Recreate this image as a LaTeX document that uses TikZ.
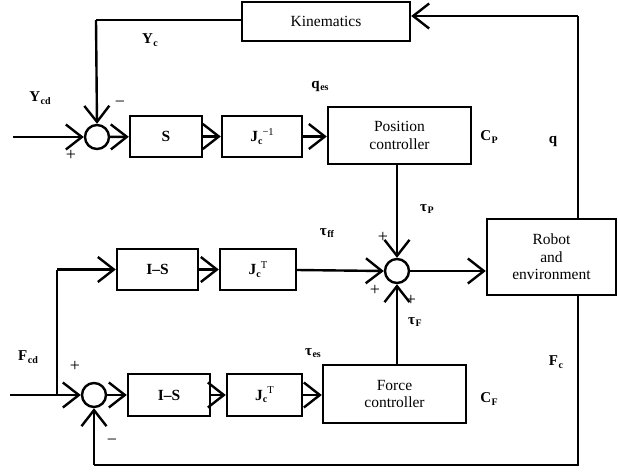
\documentclass[tikz,border=0pt]{standalone}
\usepackage{fontspec}
\setmainfont{Liberation Serif}
\usetikzlibrary{arrows.meta}
\newcommand{\bsub}[2]{\textbf{#1}\kern0.5pt\raisebox{-0.35ex}{\fontsize{10}{10}\selectfont\textbf{#2}}}
\newcommand{\jc}[1]{\textbf{J}\raisebox{-0.35ex}{\fontsize{10}{10}\selectfont\textbf{c}}\raisebox{0.9ex}{\fontsize{10.5}{10}\selectfont #1}}
\begin{document}
\begin{tikzpicture}[x=1pt,y=-1pt,
  blk/.style={draw,line width=2.4pt,inner sep=0pt,font=\fontsize{15.5}{17.5}\selectfont,align=center},
  sumc/.style={draw,circle,line width=2.4pt,minimum size=24pt,inner sep=0pt},
  conn/.style={line width=2.4pt,-{Straight Barb[length=16pt,width=25pt,line width=2.4pt]}},
  wire/.style={line width=2.4pt},
  lab/.style={font=\fontsize{15}{16}\selectfont},
  sgn/.style={font=\fontsize{18}{18}\selectfont}]
\useasboundingbox (0,0) rectangle (618,472);
% blocks
\node[blk,minimum width=168pt,minimum height=39pt] (kin) at (326,21.5) {Kinematics};
\node[sumc] (s1) at (97,137) {};
\node[blk,minimum width=72pt,minimum height=41pt] (S) at (166,136.5) {\textbf{S}};
\node[blk,minimum width=80pt,minimum height=41pt] (Ji) at (262,136.5) {\jc{−1}};
\node[blk,minimum width=143pt,minimum height=57pt] (pos) at (399.5,135.5) {Position\\controller};
\node[blk,minimum width=129pt,minimum height=76pt] (rob) at (551.5,257) {Robot\\and\\environment};
\node[sumc] (s2) at (397,271) {};
\node[blk,minimum width=81pt,minimum height=41pt] (is1) at (157.5,269.5) {\textbf{I–S}};
\node[blk,minimum width=76pt,minimum height=41pt] (jt1) at (258,269.5) {\jc{T}};
\node[sumc] (s3) at (94,395) {};
\node[blk,minimum width=82pt,minimum height=42pt] (is2) at (169,395) {\textbf{I–S}};
\node[blk,minimum width=75pt,minimum height=42pt] (jt2) at (264.5,395) {\jc{T}};
\node[blk,minimum width=143pt,minimum height=58pt] (frc) at (394.5,394) {Force\\controller};
% coordinates
\coordinate (in1) at (13,137);
\coordinate (in3) at (10,395);
\coordinate (br) at (57,395);
\coordinate (brt) at (57,269.5);
\coordinate (kl) at (kin.west |- 0,20);
\coordinate (k1) at (96,20);
\coordinate (kr) at (kin.east |- 0,16);
\coordinate (r1) at (578,16);
\coordinate (b1) at (578,465);
\coordinate (b2) at (94,465);
% connectors top
\draw[conn] (in1) -- (s1);
\draw[wire] (kl) -- (k1);
\draw[conn] (k1) -- (s1.north);
\draw[conn] (s1) -- (S);
\draw[conn] (S) -- (Ji);
\draw[conn] (Ji.east) -- (Ji.east -| pos.west);
\draw[wire] (rob.north -| r1) -- (r1);
\draw[conn] (r1) -- (kr);
\draw[conn] (s2.north |- pos.south) -- (s2.north);
\draw[conn] (s2) -- (s2 -| rob.west);
% middle
\draw[wire] (br) -- (brt);
\draw[conn] (brt) -- (is1.west);
\draw[conn] (is1) -- (jt1);
\draw[conn] (jt1.east |- 0,270) -- (s2.west);
% bottom
\draw[conn] (in3) -- (s3);
\draw[conn] (s3) -- (is2);
\draw[conn] (is2) -- (jt2);
\draw[conn] (jt2) -- (jt2 -| frc.west);
\draw[conn] (s2.south |- frc.north) -- (s2.south);
\draw[wire] (rob.south -| b1) -- (b1) -- (b2);
\draw[conn] (b2) -- (s3.south);
% labels
\node[lab] (lYc) at (150,40) {\bsub{Y}{c}};
\node[lab] (lYcd) at (40,98) {\bsub{Y}{cd}};
\node[sgn] (m1) at (120,104) {−};
\node[sgn] (p1) at (71,155) {+};
\node[lab] (lqes) at (320,86) {\bsub{q}{es}};
\node[lab] (lCP) at (489,137) {\bsub{C}{P}};
\node[lab] (lq) at (553,141) {\textbf{q}};
\node[lab] (ltP) at (427,209) {\bsub{τ}{P}};
\node[lab] (ltff) at (327,233) {\bsub{τ}{ff}};
\node[sgn] (p2) at (383,237) {+};
\node[sgn] (p3) at (375,290) {+};
\node[sgn] (p4) at (411,300) {+};
\node[lab] (ltF) at (415,322) {\bsub{τ}{F}};
\node[lab] (ltes) at (313,353) {\bsub{τ}{es}};
\node[lab] (lFc) at (556,362) {\bsub{F}{c}};
\node[lab] (lCF) at (489,399) {\bsub{C}{F}};
\node[lab] (lFcd) at (28,357) {\bsub{F}{cd}};
\node[sgn] (p5) at (75,366) {+};
\node[sgn] (m2) at (112,442) {−};
\end{tikzpicture}
\end{document}
